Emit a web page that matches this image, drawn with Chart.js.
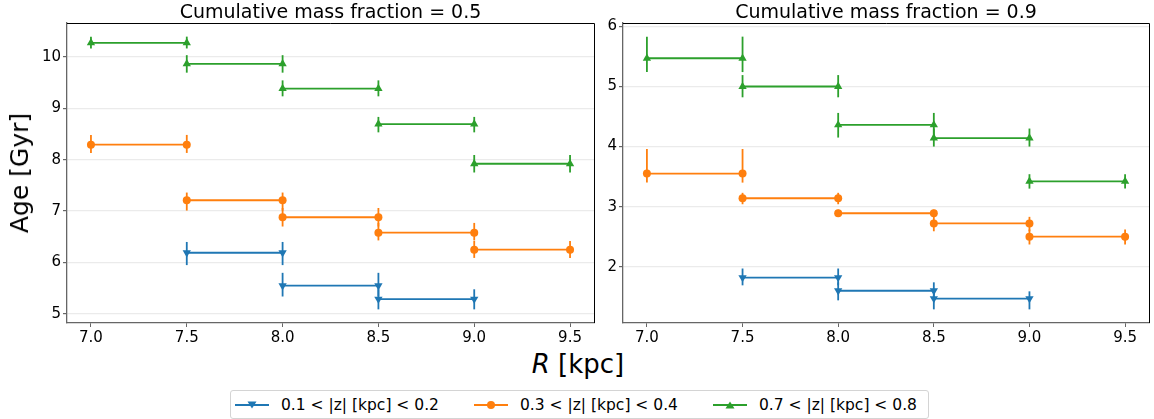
<!DOCTYPE html>
<html>
<head>
<meta charset="utf-8">
<script src="https://cdn.jsdelivr.net/npm/chart.js@4/dist/chart.umd.min.js"></script>
<style>
body { margin: 0; background: #fff; font-family: "DejaVu Sans", sans-serif; }
#wrap { position: relative; width: 1154px; height: 419px; overflow: hidden; background: #fff; }
canvas { position: absolute; top: 0; }
.txt { position: absolute; white-space: nowrap; color: #000; }
.title { top: 0; font-size: 19px; line-height: 22px; text-align: center; }
#ylab { font-size: 25px; line-height: 30px; left: 20px; top: 173px; transform: translate(-50%, -50%) rotate(-90deg); }
#xlab { font-size: 26px; line-height: 30px; left: 578px; top: 349px; transform: translateX(-50%); }
#legend { position: absolute; left: 230px; top: 390px; width: 697px; height: 27px; border: 1px solid #d4d4d4; border-radius: 3px; }
.item { position: absolute; top: 390px; height: 29px; display: flex; align-items: center; font-size: 15.5px; }
.item svg { margin-right: 12px; }
</style>
</head>
<body>
<div id="wrap">
  <canvas id="left" width="600" height="345" style="left:0px"></canvas>
  <canvas id="right" width="558" height="345" style="left:596px"></canvas>
  <div class="txt title" style="left:67px;width:527px">Cumulative mass fraction = 0.5</div>
  <div class="txt title" style="left:623px;width:526px">Cumulative mass fraction = 0.9</div>
  <div class="txt" id="ylab">Age [Gyr]</div>
  <div class="txt" id="xlab"><i>R</i> [kpc]</div>
  <div id="legend"></div>
  <div class="txt item" style="left:235px">
    <svg width="34" height="12"><line x1="0" y1="6" x2="34" y2="6" stroke="#1f77b4" stroke-width="1.8"/><polygon points="12.5,2.5 21.5,2.5 17,9.5" fill="#1f77b4"/></svg>0.1 &lt; |z| [kpc] &lt; 0.2</div>
  <div class="txt item" style="left:474px">
    <svg width="34" height="12"><line x1="0" y1="6" x2="34" y2="6" stroke="#ff7f0e" stroke-width="1.8"/><circle cx="17" cy="6" r="4" fill="#ff7f0e"/></svg>0.3 &lt; |z| [kpc] &lt; 0.4</div>
  <div class="txt item" style="left:713px">
    <svg width="34" height="12"><line x1="0" y1="6" x2="34" y2="6" stroke="#2ca02c" stroke-width="1.8"/><polygon points="12.5,9.5 21.5,9.5 17,2.5" fill="#2ca02c"/></svg>0.7 &lt; |z| [kpc] &lt; 0.8</div>
</div>
<script>
// radial bins (start of each bin), all bins are 0.5 kpc wide
const binWidth = 0.5;
const rStartLow = [7.5, 8.0, 8.5];
const rStartMid = [7.0, 7.5, 8.0, 8.5, 9.0];
const rStartHigh = [7.0, 7.5, 8.0, 8.5, 9.0];
const rTicks = [7.0, 7.5, 8.0, 8.5, 9.0, 9.5];

// cumulative mass fraction = 0.5
const age50Low = [6.19, 5.55, 5.29];
const age50LowMin = [5.95, 5.34, 5.09];
const age50LowMax = [6.40, 5.80, 5.48];
const age50Mid = [8.29, 7.21, 6.88, 6.58, 6.25];
const age50MidMin = [8.13, 7.01, 6.70, 6.43, 6.09];
const age50MidMax = [8.48, 7.36, 7.06, 6.77, 6.42];
const age50High = [10.27, 9.86, 9.38, 8.69, 7.92];
const age50HighMin = [10.16, 9.69, 9.23, 8.53, 7.75];
const age50HighMax = [10.39, 10.03, 9.54, 8.83, 8.09];
const yTicks50 = [5, 6, 7, 8, 9, 10];

// cumulative mass fraction = 0.9
const age90Low = [1.82, 1.60, 1.47];
const age90LowMin = [1.69, 1.44, 1.29];
const age90LowMax = [1.97, 1.74, 1.59];
const age90Mid = [3.55, 3.14, 2.89, 2.72, 2.50];
const age90MidMin = [3.40, 3.04, 2.83, 2.59, 2.37];
const age90MidMax = [3.96, 3.23, 2.95, 2.83, 2.62];
const age90High = [5.47, 5.00, 4.36, 4.14, 3.42];
const age90HighMin = [5.24, 4.82, 4.15, 4.00, 3.30];
const age90HighMax = [5.83, 5.19, 4.56, 4.30, 3.54];
const yTicks90 = [2, 3, 4, 5, 6];

const blue = '#1f77b4', orange = '#ff7f0e', green = '#2ca02c';

// horizontal segment per bin, broken between bins
function steps(starts, vals) {
  const pts = [];
  starts.forEach((r, i) => {
    if (i > 0) pts.push({ x: r, y: null });
    pts.push({ x: r, y: vals[i] }, { x: r + binWidth, y: vals[i] });
  });
  return pts;
}

function series(starts, vals, lo, hi, color, style, rot) {
  return {
    data: steps(starts, vals),
    rStart: starts, errMin: lo, errMax: hi,
    borderColor: color, backgroundColor: color,
    borderWidth: 1.8,
    pointStyle: style, pointRotation: rot,
    pointRadius: style === 'circle' ? 4 : 4.8,
    pointBorderWidth: 0,
    pointBackgroundColor: color,
    spanGaps: false, tension: 0
  };
}

const errorBars = {
  id: 'errorBars',
  beforeDatasetsDraw(chart) {
    const { ctx, scales: { x, y } } = chart;
    chart.data.datasets.forEach(ds => {
      ctx.save();
      ctx.strokeStyle = ds.borderColor;
      ctx.lineWidth = 1.8;
      ds.rStart.forEach((r0, i) => {
        [r0, r0 + binWidth].forEach(r => {
          const px = x.getPixelForValue(r);
          ctx.beginPath();
          ctx.moveTo(px, y.getPixelForValue(ds.errMin[i]));
          ctx.lineTo(px, y.getPixelForValue(ds.errMax[i]));
          ctx.stroke();
        });
      });
      ctx.restore();
    });
  }
};

// top and right spines
const frame = {
  id: 'frame',
  afterDraw(chart) {
    const { ctx, chartArea: a } = chart;
    ctx.save();
    ctx.strokeStyle = '#000';
    ctx.lineWidth = 1;
    ctx.beginPath();
    ctx.moveTo(a.left, a.top + 0.5);
    ctx.lineTo(a.right + 0.5, a.top + 0.5);
    ctx.lineTo(a.right + 0.5, a.bottom);
    ctx.stroke();
    ctx.restore();
  }
};

function makeChart(id, datasets, yMin, yMax, yTicks, yWidth, padRight) {
  return new Chart(document.getElementById(id), {
    type: 'line',
    data: { datasets: datasets },
    plugins: [errorBars, frame],
    options: {
      responsive: false,
      animation: false,
      layout: { padding: { top: 23, right: padRight, left: 0, bottom: 0 } },
      plugins: { legend: { display: false }, tooltip: { enabled: false } },
      scales: {
        x: {
          type: 'linear', min: 6.875, max: 9.625,
          afterBuildTicks: s => { s.ticks = rTicks.map(v => ({ value: v })); },
          afterFit: s => { s.height = 22; },
          ticks: { callback: v => v.toFixed(1), color: '#000', font: { family: 'DejaVu Sans', size: 15 }, padding: 2, maxRotation: 0 },
          grid: { drawOnChartArea: false, drawTicks: true, tickLength: 4, tickColor: '#666' },
          border: { color: '#666', width: 1.3 }
        },
        y: {
          min: yMin, max: yMax,
          afterBuildTicks: s => { s.ticks = yTicks.map(v => ({ value: v })); },
          afterFit: s => { s.width = yWidth; },
          ticks: { color: '#000', font: { family: 'DejaVu Sans', size: 15 }, padding: 2 },
          grid: { color: '#ebebeb', lineWidth: 1.2, tickLength: 4, tickColor: '#666' },
          border: { color: '#666', width: 1.3 }
        }
      }
    }
  });
}

makeChart('left', [
  series(rStartLow, age50Low, age50LowMin, age50LowMax, blue, 'triangle', 180),
  series(rStartMid, age50Mid, age50MidMin, age50MidMax, orange, 'circle', 0),
  series(rStartHigh, age50High, age50HighMin, age50HighMax, green, 'triangle', 0)
], 4.825, 10.655, yTicks50, 67, 6);

makeChart('right', [
  series(rStartLow, age90Low, age90LowMin, age90LowMax, blue, 'triangle', 180),
  series(rStartMid, age90Mid, age90MidMin, age90MidMax, orange, 'circle', 0),
  series(rStartHigh, age90High, age90HighMin, age90HighMax, green, 'triangle', 0)
], 1.063, 6.057, yTicks90, 27, 5);
</script>
</body>
</html>
